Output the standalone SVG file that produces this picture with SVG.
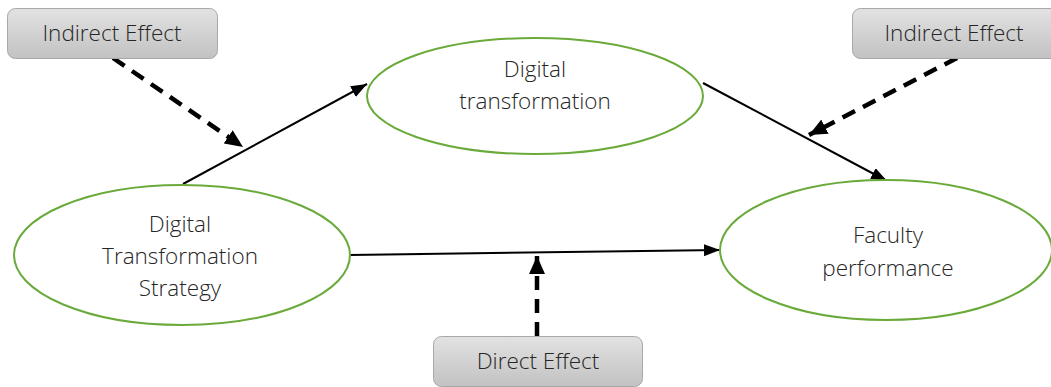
<svg xmlns="http://www.w3.org/2000/svg" width="1051" height="387" viewBox="0 0 1051 387">
<defs>
<linearGradient id="gray" x1="0" y1="0" x2="0" y2="1">
<stop offset="0" stop-color="#e2e2e2"/>
<stop offset="1" stop-color="#c2c2c2"/>
</linearGradient>
<marker id="ah" markerWidth="16" markerHeight="12" refX="16" refY="6" orient="auto" markerUnits="userSpaceOnUse">
<path d="M0,0 L16,6 L0,12 Z" fill="#000"/>
</marker>
<marker id="ahd" markerWidth="18" markerHeight="16" refX="18" refY="8" orient="auto" markerUnits="userSpaceOnUse">
<path d="M0,0 L18,8 L0,16 Z" fill="#000"/>
</marker>
</defs>
<style>
.ell{fill:#fff;stroke:#6aaa3a;stroke-width:2}
.box{fill:url(#gray);stroke:#a8a8a8;stroke-width:1}
.t{font-family:"Open Sans","Noto Sans",sans-serif;font-size:22.5px;font-weight:300;fill:#262626;text-anchor:middle}
.solid{stroke:#000;stroke-width:2;fill:none;marker-end:url(#ah)}
.dash{stroke:#000;stroke-width:4.5;stroke-dasharray:14 9;fill:none;marker-end:url(#ahd)}
</style>
<rect width="1051" height="387" fill="#fff"/>
<g id="connectors">
<line class="solid" x1="183" y1="184" x2="367" y2="84"/>
<line class="solid" x1="703" y1="83" x2="887" y2="181"/>
<line class="solid" x1="350" y1="255" x2="720" y2="250"/>
<line class="dash" x1="113" y1="58" x2="243" y2="147"/>
<line class="dash" x1="957" y1="58" x2="809" y2="135"/>
<line class="dash" x1="537" y1="336" x2="537" y2="256"/>
</g>
<g id="dts">
<ellipse class="ell" cx="182" cy="255" rx="168" ry="70"/>
<text class="t" x="180" y="232">Digital</text>
<text class="t" x="180" y="264">Transformation</text>
<text class="t" x="180" y="296">Strategy</text>
</g>
<g id="dt">
<ellipse class="ell" cx="535" cy="96" rx="168" ry="58"/>
<text class="t" x="535" y="77">Digital</text>
<text class="t" x="535" y="109">transformation</text>
</g>
<g id="fp">
<ellipse class="ell" cx="886" cy="250" rx="166" ry="70"/>
<text class="t" x="888" y="243">Faculty</text>
<text class="t" x="888" y="276">performance</text>
</g>
<g id="ie1">
<rect class="box" x="7.5" y="8.5" width="210" height="50" rx="8"/>
<text class="t" x="112" y="41">Indirect Effect</text>
</g>
<g id="ie2">
<rect class="box" x="852.5" y="8.5" width="210" height="50" rx="8"/>
<text class="t" x="954" y="41">Indirect Effect</text>
</g>
<g id="de">
<rect class="box" x="433.5" y="336.5" width="209" height="50" rx="8"/>
<text class="t" x="538" y="369">Direct Effect</text>
</g>
</svg>
